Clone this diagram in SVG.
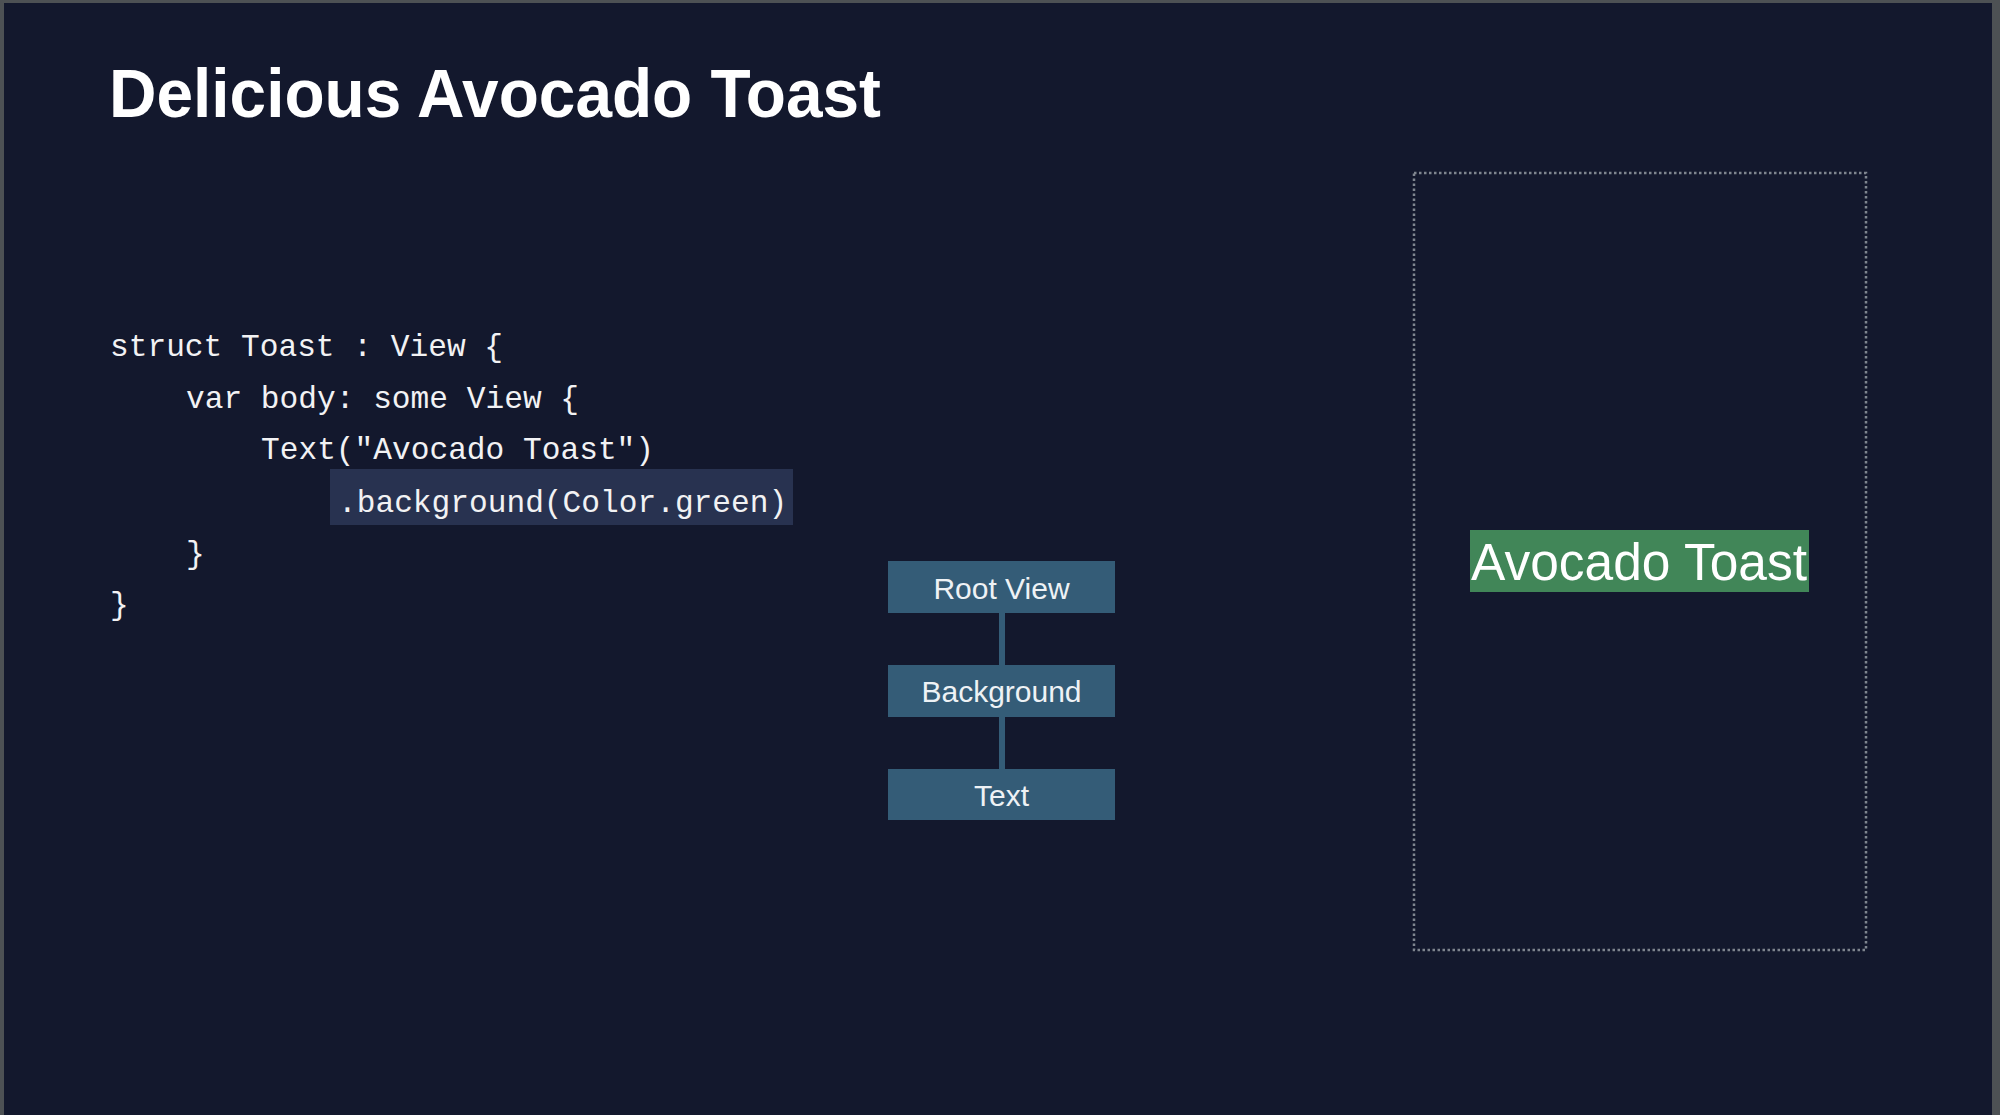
<svg xmlns="http://www.w3.org/2000/svg" width="2000" height="1115" viewBox="0 0 2000 1115">
  <style>
    .code { font-family: "Liberation Mono", "DejaVu Sans Mono", monospace; font-size: 31.2px; fill: #f2f2f4; }
    .node rect { fill: #345c77; }
    .node text { font-family: "Liberation Sans", Arial, sans-serif; font-size: 30px; fill: #eef2f5; text-anchor: middle; }
    .edge { stroke: #345c77; stroke-width: 6; }
  </style>
  <rect x="0" y="0" width="2000" height="1115" fill="#4d5154"/>
  <rect x="4" y="3" width="1988" height="1112" fill="#13182d"/>

  <g id="title">
    <text x="109" y="117" font-family="Liberation Sans, Arial, sans-serif" font-weight="bold" font-size="68" fill="#ffffff" textLength="772" lengthAdjust="spacingAndGlyphs">Delicious Avocado Toast</text>
  </g>

  <g id="code">
    <rect x="330" y="469" width="463" height="56" fill="#283250"/>
    <text class="code" x="110" y="356">struct Toast : View {</text>
    <text class="code" x="186" y="408">var body: some View {</text>
    <text class="code" x="261" y="459">Text("Avocado Toast")</text>
    <text class="code" x="338" y="512">.background(Color.green)</text>
    <text class="code" x="186" y="563">}</text>
    <text class="code" x="110" y="614">}</text>
  </g>

  <g id="connectors">
    <line class="edge" x1="1002" y1="612" x2="1002" y2="666"/>
    <line class="edge" x1="1002" y1="716" x2="1002" y2="769"/>
  </g>

  <g id="node-root" class="node">
    <rect x="888" y="561" width="227" height="52"/>
    <text x="1001.5" y="599">Root View</text>
  </g>
  <g id="node-background" class="node">
    <rect x="888" y="665" width="227" height="52"/>
    <text x="1001.5" y="702">Background</text>
  </g>
  <g id="node-text" class="node">
    <rect x="888" y="769" width="227" height="51"/>
    <text x="1001.5" y="806">Text</text>
  </g>

  <g id="preview">
    <rect x="1414" y="173" width="452" height="777" fill="none" stroke="#7f858f" stroke-width="2.5" stroke-dasharray="2.5 2.5"/>
    <rect x="1470" y="530" width="339" height="62" fill="#418658"/>
    <text x="1471" y="580" font-family="Liberation Sans, Arial, sans-serif" font-size="51" fill="#ffffff" textLength="336" lengthAdjust="spacingAndGlyphs">Avocado Toast</text>
  </g>
</svg>
